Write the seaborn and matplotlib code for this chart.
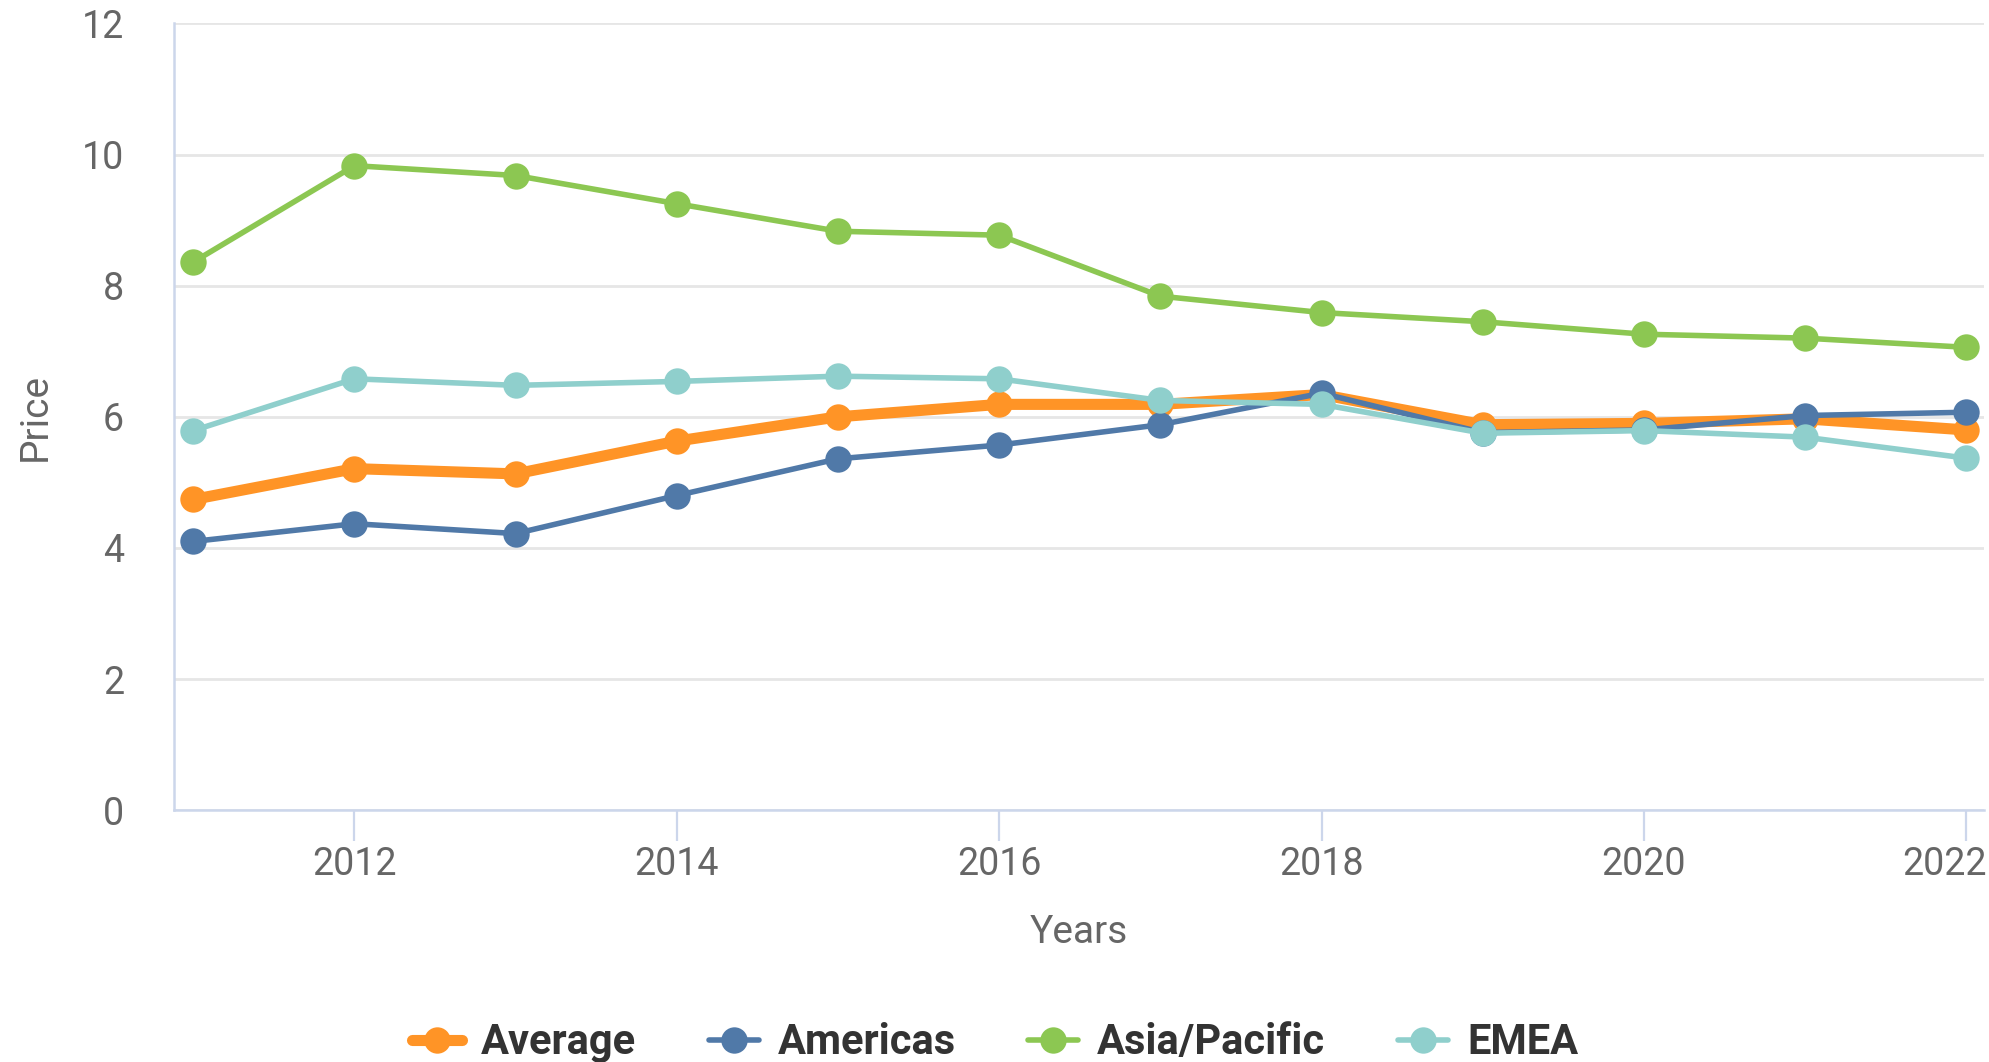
import numpy as np
import pandas as pd
import matplotlib.pyplot as plt
import matplotlib.transforms as mtransforms
from matplotlib.lines import Line2D
import seaborn as sns

# values
years = [2011, 2012, 2013, 2014, 2015, 2016, 2017, 2018, 2019, 2020, 2021, 2022]
average = [4.74, 5.21, 5.13, 5.63, 6.00, 6.19, 6.19, 6.34, 5.88, 5.90, 5.97, 5.80]
americas = [4.10, 4.37, 4.22, 4.80, 5.36, 5.57, 5.88, 6.36, 5.76, 5.80, 6.02, 6.07]
asia_pacific = [8.36, 9.83, 9.68, 9.25, 8.83, 8.77, 7.84, 7.59, 7.45, 7.26, 7.20, 7.06]
emea = [5.79, 6.58, 6.48, 6.54, 6.62, 6.58, 6.25, 6.19, 5.75, 5.79, 5.69, 5.37]

regions = ["Average", "Americas", "Asia/Pacific", "EMEA"]
colors = {"Average": "#ff9426", "Americas": "#5079a8",
          "Asia/Pacific": "#8cc752", "EMEA": "#8fcfcc"}
widths = {"Average": 8, "Americas": 4, "Asia/Pacific": 4, "EMEA": 4}

df = pd.DataFrame({"Year": years, "Average": average, "Americas": americas,
                   "Asia/Pacific": asia_pacific, "EMEA": emea})
long_df = df.melt(id_vars="Year", var_name="Region", value_name="Price")

sns.set_style("white")
plt.rcParams['font.family'] = ['Roboto', 'DejaVu Sans']

fig = plt.figure(figsize=(19.9, 10.62), dpi=100)
ax = fig.add_axes([0.0874, 0.237, 0.9096, 0.741])

sns.lineplot(data=long_df, x="Year", y="Price", hue="Region", size="Region",
             hue_order=regions, size_order=regions, palette=colors, sizes=widths,
             marker="o", markersize=19, markeredgewidth=0, legend=False, ax=ax)

ax.set_xlim(2010.88, 2022.11)
ax.set_ylim(0, 12)
ax.set_yticks(np.arange(0, 13, 2))
ax.set_xticks(np.arange(2012, 2023, 2))

ax.yaxis.grid(True, color="#e6e6e6", linewidth=2)
ax.xaxis.grid(False)
for s in ["top", "right"]:
    ax.spines[s].set_visible(False)
for s in ["left", "bottom"]:
    ax.spines[s].set_color("#ccd6eb")
    ax.spines[s].set_linewidth(1.8)

ax.tick_params(axis="y", length=0, pad=36, labelsize=27, labelcolor="#666666")
ax.tick_params(axis="x", length=22, width=1.6, color="#ccd6eb", pad=4,
               labelsize=27, labelcolor="#666666", bottom=True)

# last label pulled inside the figure like the original
last = ax.get_xticklabels()[-1]
last.set_horizontalalignment("right")
last.set_transform(last.get_transform() + mtransforms.ScaledTranslation(0.2, 0, fig.dpi_scale_trans))

ax.set_xlabel("Years", fontsize=28, color="#666666", labelpad=22)
ax.set_ylabel("Price", fontsize=28, color="#666666", labelpad=20)

handles = [Line2D([0], [0], color=colors[r], linewidth=widths[r], marker="o",
                  markersize=19, markeredgewidth=0) for r in regions]
fig.legend(handles, regions, loc="center", bbox_to_anchor=(0.5, 0.018), ncol=4,
           frameon=False, handlelength=1.2, columnspacing=1.75, handletextpad=0.45,
           prop={"family": "Roboto", "weight": "bold", "size": 30})
for t in fig.legends[0].get_texts():
    t.set_color("#333333")

fig.savefig("out.png", dpi=100)
